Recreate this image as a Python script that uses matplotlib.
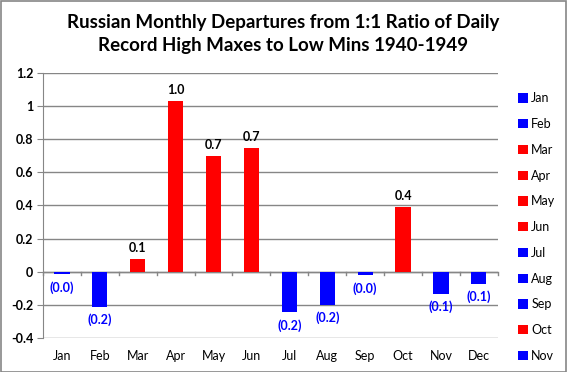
import numpy as np
import matplotlib.pyplot as plt
from matplotlib.patches import Patch, Rectangle

months = ['Jan', 'Feb', 'Mar', 'Apr', 'May', 'Jun',
          'Jul', 'Aug', 'Sep', 'Oct', 'Nov', 'Dec']
departures = [-0.016, -0.21, 0.078, 1.03, 0.70, 0.745,
              -0.245, -0.20, -0.022, 0.388, -0.133, -0.072]
legend_months = months[:11]  # Dec is cut off in the original legend

plt.rcParams['font.family'] = ['Lato', 'DejaVu Sans']

fig = plt.figure(figsize=(5.67, 3.72), dpi=100)
ax = fig.add_axes([0.0758, 0.0914, 0.8022, 0.7126])

x = np.arange(len(months))
colors = ['#ff0000' if v > 0 else '#0000ff' for v in departures]
ax.bar(x, departures, width=0.4, color=colors, zorder=3)

for xi, v in zip(x, departures):
    if v > 0:
        ax.text(xi, v + 0.03, '%.1f' % v, ha='center', va='bottom',
                fontsize=9, fontweight='bold', color='black', zorder=4)
    else:
        ax.text(xi, v - 0.04, '(%.1f)' % abs(v), ha='center', va='top',
                fontsize=9, fontweight='bold', color='#0000ff', zorder=4)

ax.set_xlim(-0.5, 11.5)
ax.set_ylim(-0.4, 1.2)
yt = [-0.4, -0.2, 0, 0.2, 0.4, 0.6, 0.8, 1, 1.2]
ax.set_yticks(yt)
ax.set_yticklabels(['-0.4', '-0.2', '0', '0.2', '0.4', '0.6', '0.8', '1', '1.2'],
                   fontsize=9, fontweight='bold')
ax.yaxis.grid(True, color='#868686', linewidth=1, zorder=0)

for s in ['top', 'right', 'bottom']:
    ax.spines[s].set_visible(False)
ax.spines['left'].set_color('#868686')
ax.tick_params(axis='y', length=4, color='#868686', pad=3)

# category axis drawn at zero, labels at the bottom
ax.set_xticks(x)
ax.set_xticklabels(months, fontsize=9)
ax.tick_params(axis='x', length=0, pad=9)
ax.axhline(0, color='#868686', linewidth=1, zorder=2)
for b in np.arange(-0.5, 12.0, 1.0):
    ax.plot([b, b], [0, -0.02], color='#868686', linewidth=1, zorder=2,
            clip_on=False)

fig.text(0.5, 0.909, 'Russian Monthly Departures from 1:1 Ratio of Daily\n'
         'Record High Maxes to Low Mins 1940-1949',
         ha='center', va='center', fontsize=13.5, fontweight='bold',
         linespacing=1.45)

handles = [Patch(facecolor=c) for c in colors[:11]]
fig.legend(handles, legend_months, loc='upper left',
           bbox_to_anchor=(0.905, 0.765), frameon=False, fontsize=9,
           handlelength=0.75, handleheight=0.75, handletextpad=0.3,
           labelspacing=1.1, borderaxespad=0)

fig.patches.append(Rectangle((0.001, 0.001), 0.997, 0.997,
                             transform=fig.transFigure, fill=False,
                             edgecolor='#868686', linewidth=1.2))

fig.savefig('out.png', dpi=100)
